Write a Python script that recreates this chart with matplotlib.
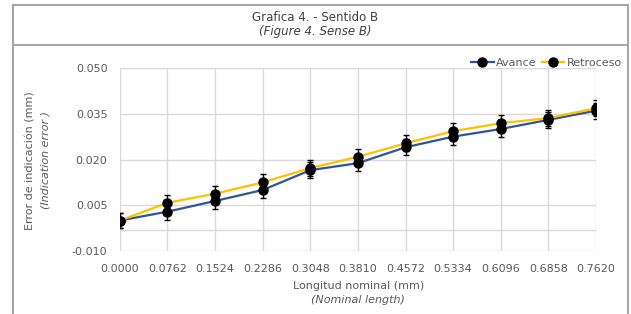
import matplotlib.pyplot as plt
from matplotlib.patches import Rectangle
from matplotlib.lines import Line2D

# data
longitud = [0.0000, 0.0762, 0.1524, 0.2286, 0.3048, 0.3810,
            0.4572, 0.5334, 0.6096, 0.6858, 0.7620]
avance = [0.0000, 0.0029, 0.0064, 0.0100, 0.0165, 0.0188,
          0.0240, 0.0275, 0.0300, 0.0330, 0.0360]
retroceso = [0.0000, 0.0058, 0.0088, 0.0125, 0.0172, 0.0209,
             0.0253, 0.0293, 0.0319, 0.0336, 0.0368]
incertidumbre = [0.0026] * len(longitud)
y_ticks = [-0.010, 0.005, 0.020, 0.035, 0.050]

gris = '#595959'
azul = '#2F5597'
amarillo = '#FFC000'

fig = plt.figure(figsize=(6.31, 3.14), dpi=100)
ax = fig.add_axes([0.190, 0.2006, 0.7544, 0.5828])

pos = list(range(len(longitud)))
ax.plot(pos, avance, color=azul, lw=1.6, zorder=3)
ax.plot(pos, retroceso, color=amarillo, lw=1.6, zorder=3)
ax.errorbar(pos, avance, yerr=incertidumbre, fmt='o', color='black',
            ms=6.5, elinewidth=1, capsize=2.5, capthick=1, zorder=4)
ax.errorbar(pos, retroceso, yerr=incertidumbre, fmt='o', color='black',
            ms=6.5, elinewidth=1, capsize=2.5, capthick=1, zorder=4)

ax.set_xlim(0, len(longitud) - 1)
ax.set_ylim(-0.010, 0.050)
ax.set_xticks(pos)
ax.set_xticklabels([f'{v:.4f}' for v in longitud])
ax.set_yticks(y_ticks)
ax.set_yticklabels([f'{v:.3f}' for v in y_ticks])
ax.grid(True, color='#D9D9D9', lw=1)
ax.axhline(-0.003, color='#D9D9D9', lw=1, zorder=1)
ax.set_axisbelow(True)
for s in ax.spines.values():
    s.set_visible(False)
ax.tick_params(length=0, labelsize=8, colors=gris)
ax.tick_params(axis='y', pad=9)
ax.tick_params(axis='x', pad=9)

# axis titles
fig.text(0.5676, 0.090, 'Longitud nominal (mm)', ha='center', va='center',
         fontsize=8, color=gris)
fig.text(0.5676, 0.043, '(Nominal length)', ha='center', va='center',
         fontsize=8, color=gris, style='italic')
fig.text(0.048, 0.49, 'Error de indicación (mm)', ha='center', va='center',
         fontsize=8, color=gris, rotation=90)
fig.text(0.072, 0.49, '(Indication error )', ha='center', va='center',
         fontsize=8, color=gris, rotation=90, style='italic')

# chart title
fig.text(0.5, 0.945, 'Grafica 4. - Sentido B', ha='center', va='center',
         fontsize=8.5, color='#404040')
fig.text(0.5, 0.900, '(Figure 4. Sense B)', ha='center', va='center',
         fontsize=8.5, color='#404040', style='italic')

# frame around the chart and title band
fig.patches.append(Rectangle((13 / 631, -0.01), 615 / 631, 1 - 5 / 314 + 0.01,
                             transform=fig.transFigure, fill=False,
                             ec='#A6A6A6', lw=1.5))
fig.lines.append(Line2D([13 / 631, 628 / 631], [1 - 45 / 314, 1 - 45 / 314],
                        transform=fig.transFigure, color='#A6A6A6', lw=1.5))

# legend
h1 = Line2D([], [], color=azul, lw=1.6, marker='o', mfc='black', mec='black', ms=6.5)
h2 = Line2D([], [], color=amarillo, lw=1.6, marker='o', mfc='black', mec='black', ms=6.5)
leg = fig.legend([h1, h2], ['Avance', 'Retroceso'], loc='center right',
                 bbox_to_anchor=(0.992, 1 - 63 / 314), ncol=2, frameon=False,
                 fontsize=8, handlelength=2.0, handletextpad=0.2,
                 columnspacing=0.5, borderaxespad=0)
for t in leg.get_texts():
    t.set_color(gris)

fig.savefig('out.png', dpi=100)
